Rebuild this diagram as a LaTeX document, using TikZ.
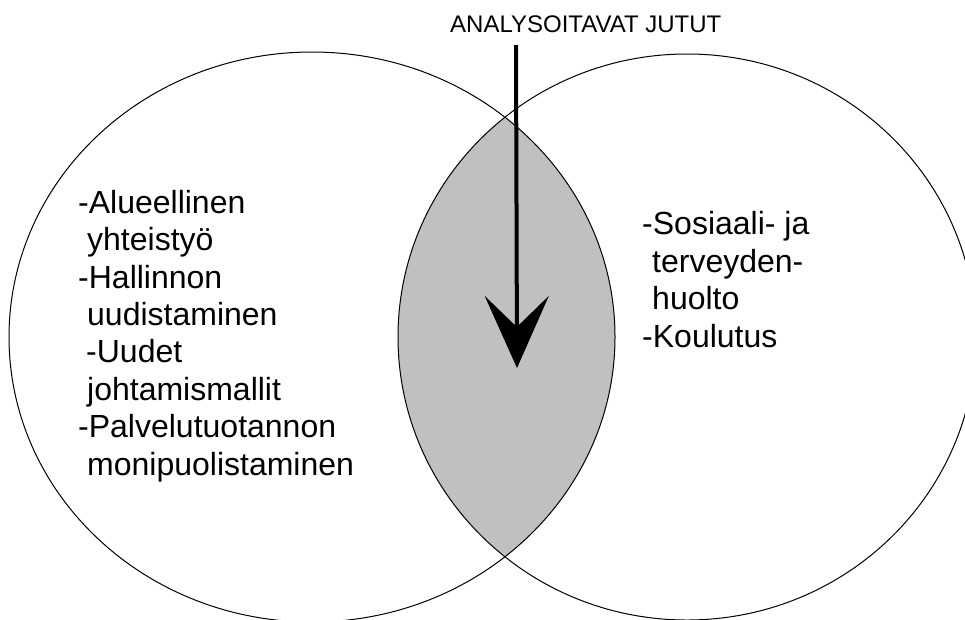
\documentclass[tikz,border=0pt]{standalone}
\usepackage{fontspec}
\setmainfont{Liberation Sans}
\usetikzlibrary{arrows.meta}
\definecolor{lensgray}{RGB}{192,192,192}
\begin{document}
\begin{tikzpicture}[x=1pt,y=-1pt,
  outline/.style={draw=black, line width=1pt},
  listtext/.style={font=\fontsize{32}{37.4}\selectfont, align=left, inner sep=0pt, anchor=base west},
  labeltext/.style={font=\fontsize{24}{28}\selectfont, inner sep=0pt, anchor=base west},
  arr/.style={line width=4pt, -{Stealth[length=72pt,width=64pt,inset=31pt]}}]
\useasboundingbox (0,0) rectangle (965,619);
\begin{scope}
  \clip (0,0) rectangle (965,619);
  \begin{scope}
    \clip (312,337) ellipse [x radius=303, y radius=285];
    \fill[lensgray] (687,337) ellipse [x radius=289, y radius=283];
  \end{scope}
  \draw[outline] (312,337) ellipse [x radius=303, y radius=285];
  \draw[outline] (687,337) ellipse [x radius=289, y radius=283];
\end{scope}
\node[labeltext] (label) at (450,32) {ANALYSOITAVAT JUTUT};
\coordinate (arrowtop) at (516,45);
\coordinate (arrowtip) at (517,368);
\draw[arr] (arrowtop) -- (arrowtip);
\node[listtext] (leftlist) at (78,475) {-Alueellinen\\
\hspace*{9pt}yhteistyö\\
-Hallinnon\\
\hspace*{9pt}uudistaminen\\
\hspace*{8pt}-Uudet\\
\hspace*{9pt}johtamismallit\\
-Palvelutuotannon\\
\hspace*{9pt}monipuolistaminen};
\node[listtext] (rightlist) at (642,347) {-Sosiaali- ja\\
\hspace*{10pt}terveyden-\\
\hspace*{10pt}huolto\\
-Koulutus};
\end{tikzpicture}
\end{document}
